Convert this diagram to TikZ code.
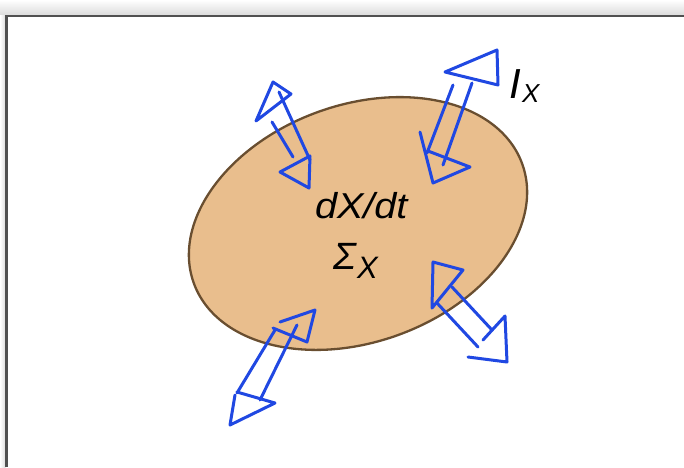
\documentclass[tikz,border=0pt]{standalone}
\usepackage{fontspec}
\setmainfont{Liberation Sans}
\begin{document}
\begin{tikzpicture}[x=1pt,y=-1pt,
  sk/.style={draw=skblue,line width=3pt,line cap=round,line join=round},
  lbl/.style={inner sep=0pt,outer sep=0pt,anchor=base west},
  frameline/.style={draw=framegray,line width=2.4pt}]
\definecolor{skblue}{RGB}{32,72,226}
\definecolor{blobfill}{RGB}{233,190,141}
\definecolor{blobedge}{RGB}{105,78,48}
\definecolor{framegray}{RGB}{80,80,80}
\useasboundingbox (0,0) rectangle (684,467);
% shadow + frame
\shade[top color=white,bottom color=black!14] (0,0) rectangle (684,15);
\shade[left color=white,right color=black!14] (0,15) rectangle (5.5,467);
\draw[frameline] (684,16) -- (6.5,16) -- (6.5,467);
% blob
\draw[fill=blobfill,draw=blobedge,line width=2.3pt,rotate around={20:(358,223.5)}]
  (358,223.5) ellipse [x radius=174.7pt,y radius=118.5pt];
% arrow 1 (upper left)
\draw[sk] (256,121) -- (273,82) -- (291,94) -- cycle;
\draw[sk] (279,92) -- (310,160);
\draw[sk] (272,122) -- (293,157);
\draw[sk] (280,172) -- (310,156) -- (309,188) -- cycle;
% arrow 2 (upper right)
\draw[sk] (445,72) -- (497,50) -- (498,85) -- cycle;
\draw[sk] (453,85) -- (427,153);
\draw[sk] (472,83) -- (443,165);
\draw[sk] (420,132) -- (433,183) -- (470,167) -- (428,151);
% arrow 3 (lower right)
\draw[sk] (432,308) -- (433,262) -- (463,270) -- cycle;
\draw[sk] (452,287) -- (492,330);
\draw[sk] (437,303) -- (478,347);
\draw[sk] (483,340) -- (505,316) -- (507,362) -- (468,357);
% arrow 4 (lower left)
\draw[sk] (280,322) -- (315,310) -- (307,342) -- (273,328);
\draw[sk] (297,325) -- (260,400);
\draw[sk] (275,330) -- (237,393);
\draw[sk] (237,392) -- (275,403) -- (230,425) -- (235,395);
% texts
\node[lbl,font=\itshape\fontsize{36}{36}\selectfont,xscale=1.1] (rate) at (315,218) {dX/dt};
\node[lbl,font=\itshape\fontsize{38}{38}\selectfont] (sig) at (333,269) {Σ};
\node[lbl,font=\itshape\fontsize{31}{31}\selectfont] (sigx) at (357,278) {X};
\node[lbl,font=\itshape\fontsize{42}{42}\selectfont] (ii) at (509,98) {I};
\node[lbl,font=\itshape\fontsize{26}{26}\selectfont] (iix) at (522,102) {X};
\end{tikzpicture}
\end{document}
